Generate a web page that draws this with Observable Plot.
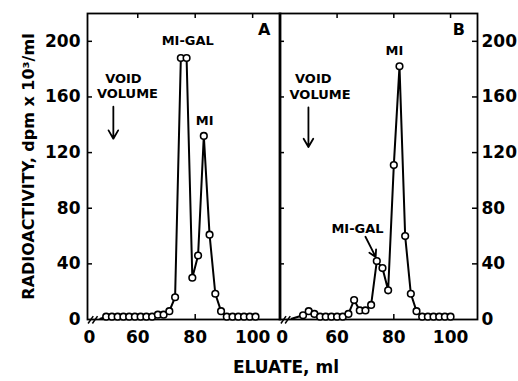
<!DOCTYPE html>
<html>
<head>
<meta charset="utf-8">
<script src="https://cdn.jsdelivr.net/npm/d3@7"></script>
<script src="https://cdn.jsdelivr.net/npm/@observablehq/plot@0.6"></script>
<style>
  html, body { margin: 0; padding: 0; background: #fff; }
  #wrap { position: relative; width: 518px; height: 381px; overflow: hidden; background: #fff; font-family: "DejaVu Sans", sans-serif; font-weight: bold; }
  #wrap svg { position: absolute; top: 0; }
  #xlabel { position: absolute; top: 357px; left: 0; width: 572px; text-align: center; font-size: 17px; color: #000; }
</style>
</head>
<body>
<div id="wrap"><div id="xlabel">ELUATE, ml</div></div>
<script>
// ---- Panel A data (eluate ml, radioactivity dpm x 10^3/ml) ----
const mlA = [47, 49, 51, 53, 55, 57, 59, 61, 63, 65, 67, 69, 71, 73, 75, 77, 79, 81, 83, 85, 87, 89, 91, 93, 95, 97, 99, 101];
const valA = [0.5, 2, 2, 2, 2, 2, 2, 2, 2, 2, 3.5, 3.5, 6, 16, 188, 188, 30, 46, 132, 61, 18.5, 6, 2, 2, 2, 2, 2, 2];
// ---- Panel B data ----
const mlB = [44, 48, 50, 52, 54, 56, 58, 60, 62, 64, 66, 68, 70, 72, 74, 76, 78, 80, 82, 84, 86, 88, 90, 92, 94, 96, 98, 100];
const valB = [0.5, 3, 6, 4, 2, 2, 2, 2, 2, 4, 14, 6.5, 6.5, 10.5, 42, 37, 21, 111, 182, 60, 18.5, 6, 2, 2, 2, 2, 2, 2];

// ---- Axis ticks ----
const yTicks = [0, 40, 80, 120, 160, 200];
const xTicks = [60, 80, 100];
const xTickLabels = ["0", "60", "80", "100"];
const xZeroA = 43.2;   // position of the broken-axis "0" label
const xZeroB = 40.6;

// ---- Annotations (data units) ----
const annA = [
  {text: "MI-GAL", ml: 77.4, v: 200.7},
  {text: "MI", ml: 83.3, v: 143},
  {text: "VOID", ml: 55, v: 173},
  {text: "VOLUME", ml: 56.4, v: 162.4}
];
const annB = [
  {text: "MI", ml: 80.2, v: 193},
  {text: "MI-GAL", ml: 67.2, v: 65.5},
  {text: "VOID", ml: 51.6, v: 173},
  {text: "VOLUME", ml: 54, v: 161.6}
];
const panelA = {text: "A", ml: 104, v: 208};
const panelB = {text: "B", ml: 102.9, v: 208};
const voidArrowA = {ml: 51.5, v1: 153, v2: 130};
const voidArrowB = {ml: 49.9, v1: 152.5, v2: 124};
const galArrowB = {ml1: 70, v1: 59.5, ml2: 73.6, v2: 45};
const breakA = [{x1: 42.7, x2: 44.5}, {x1: 44.2, x2: 46.0}];
const breakB = [{x1: 40.2, x2: 42.0}, {x1: 41.7, x2: 43.5}];

const dataA = mlA.map((ml, i) => ({ml, v: valA[i]}));
const dataB = mlB.map((ml, i) => ({ml, v: valB[i]}));

const domYA = [0, 220];
const domXA = [42.5, 109.7];
const domXB = [39.7, 109.5];
const tickLenY = 5 / 1.39;  // in data units approx
const font = "DejaVu Sans";

function panel({data, domX, ann, letter, voidArrow, extraArrow, brk, side, zero, width, marginLeft, marginRight, ticksLeftInward, ticksRightInward}) {
  const pxPerMl = (width - marginLeft - marginRight) / (domX[1] - domX[0]);
  const tx = 5 / pxPerMl;
  const labelMap = new Map([[zero, xTickLabels[0]], ...xTicks.map((t, i) => [t, xTickLabels[i + 1]])]);
  const marks = [
    Plot.frame({stroke: "black", strokeWidth: 1.8}),
    // x tick labels
    Plot.axisX({ticks: [zero, ...xTicks], tickFormat: d => labelMap.get(d), tickSize: 0, tickPadding: 11, fontSize: 17, label: null, fontWeight: "bold"}),
    // inward x ticks, bottom and top
    Plot.ruleX(xTicks, {y1: 0, y2: tickLenY, stroke: "black", strokeWidth: 1.5}),
    Plot.ruleX(xTicks, {y1: domYA[1] - tickLenY, y2: domYA[1], stroke: "black", strokeWidth: 1.5}),
  ];
  if (side === "left") {
    marks.push(Plot.axisY({ticks: yTicks, tickSize: 0, tickPadding: 7, fontSize: 17, label: null, fontWeight: "bold"}));
    marks.push(Plot.axisY({ticks: [], tickSize: 0, label: "RADIOACTIVITY, dpm x 10³/ml", labelAnchor: "center", labelOffset: 65, labelArrow: "none", fontSize: 16, fontWeight: "bold"}));
  } else {
    marks.push(Plot.axisY({anchor: "right", ticks: yTicks, tickSize: 0, tickPadding: 4, fontSize: 17, label: null, fontWeight: "bold"}));
  }
  if (ticksLeftInward) marks.push(Plot.ruleY(yTicks.slice(1), {x1: domX[0], x2: domX[0] + tx, stroke: "black", strokeWidth: 1.5}));
  if (ticksRightInward) marks.push(Plot.ruleY(yTicks.slice(1), {x1: domX[1] - tx, x2: domX[1], stroke: "black", strokeWidth: 1.5}));
  marks.push(
    // axis break marks
    Plot.link(brk, {x1: "x1", x2: "x2", y1: -2.9, y2: 2.4, stroke: "black", strokeWidth: 1.5}),
    Plot.line(data, {x: "ml", y: "v", stroke: "black", strokeWidth: 2}),
    Plot.dot(data.slice(1), {x: "ml", y: "v", r: 3.3, fill: "white", stroke: "black", strokeWidth: 1.6}),
    Plot.text(ann, {x: "ml", y: "v", text: "text", fontSize: 13, fontWeight: "bold", fill: "black"}),
    Plot.text([letter], {x: "ml", y: "v", text: "text", fontSize: 16, fontWeight: "bold", fill: "black"}),
    Plot.arrow([voidArrow], {x1: "ml", x2: "ml", y1: "v1", y2: "v2", stroke: "black", strokeWidth: 1.8, headLength: 8})
  );
  if (extraArrow) marks.push(Plot.arrow([extraArrow], {x1: "ml1", y1: "v1", x2: "ml2", y2: "v2", stroke: "black", strokeWidth: 1.8, headLength: 8}));
  return Plot.plot({
    width, height: 381,
    marginLeft, marginRight, marginTop: 13, marginBottom: 62,
    x: {domain: domX},
    y: {domain: domYA},
    style: {fontFamily: font, fontWeight: "bold", background: "transparent", overflow: "visible", color: "black"},
    marks
  });
}

const svgA = panel({data: dataA, domX: domXA, ann: annA, letter: panelA, voidArrow: voidArrowA, brk: breakA, side: "left", zero: xZeroA, width: 281, marginLeft: 87, marginRight: 1, ticksLeftInward: true, ticksRightInward: false});
const svgB = panel({data: dataB, domX: domXB, ann: annB, letter: panelB, voidArrow: voidArrowB, extraArrow: galArrowB, brk: breakB, side: "right", zero: xZeroB, width: 240, marginLeft: 1, marginRight: 41, ticksLeftInward: true, ticksRightInward: true});
svgA.style.left = "0px";
svgB.style.left = "278px";
const wrap = document.getElementById("wrap");
wrap.appendChild(svgA);
wrap.appendChild(svgB);
</script>
</body>
</html>
